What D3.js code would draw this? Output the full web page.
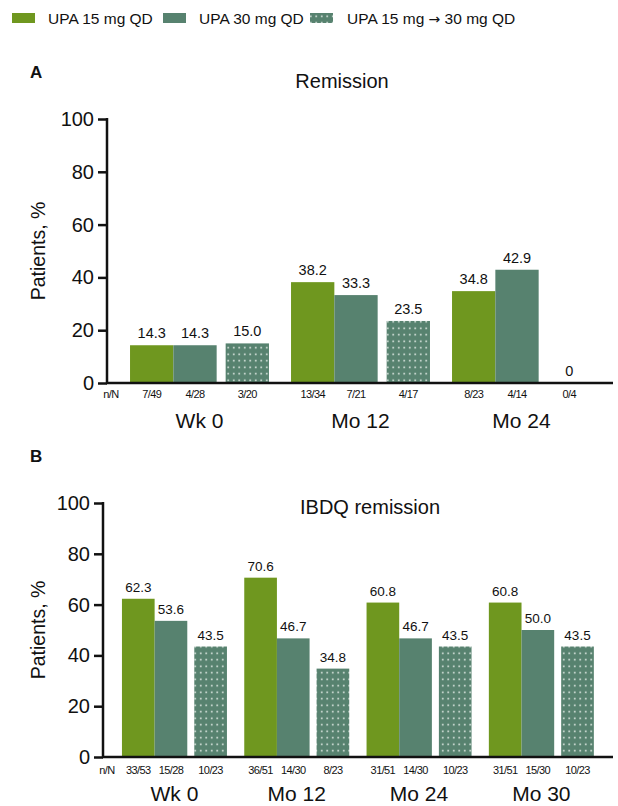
<!DOCTYPE html>
<html>
<head>
<meta charset="utf-8">
<script src="https://cdn.jsdelivr.net/npm/d3@7/dist/d3.min.js"></script>
<style>
  body { margin: 0; background: #fff; }
  svg text { font-family: "Liberation Sans", Arial, sans-serif; fill: #111; }
</style>
</head>
<body>
<div id="chart"></div>
<script>
var width = 618;
var height = 806;

// series (legend order)
var series = ["UPA 15 mg QD", "UPA 30 mg QD", "UPA 15 mg \u2192 30 mg QD"];
var seriesColors = ["#6f971f", "#57826f", "url(#dots)"];

// panel A - remission
var remissionGroups = ["Wk 0", "Mo 12", "Mo 24"];
var remission15 = [14.3, 38.2, 34.8];
var remission30 = [14.3, 33.3, 42.9];
var remissionEsc = [15.0, 23.5, 0];
var remissionN15 = ["7/49", "13/34", "8/23"];
var remissionN30 = ["4/28", "7/21", "4/14"];
var remissionNEsc = ["3/20", "4/17", "0/4"];
var remissionLabels = [["14.3", "38.2", "34.8"], ["14.3", "33.3", "42.9"], ["15.0", "23.5", "0"]];

// panel B - IBDQ remission
var ibdqGroups = ["Wk 0", "Mo 12", "Mo 24", "Mo 30"];
var ibdq15 = [62.3, 70.6, 60.8, 60.8];
var ibdq30 = [53.6, 46.7, 46.7, 50.0];
var ibdqEsc = [43.5, 34.8, 43.5, 43.5];
var ibdqN15 = ["33/53", "36/51", "31/51", "31/51"];
var ibdqN30 = ["15/28", "14/30", "14/30", "15/30"];
var ibdqNEsc = ["10/23", "8/23", "10/23", "10/23"];
var ibdqLabels = [["62.3", "70.6", "60.8", "60.8"], ["53.6", "46.7", "46.7", "50.0"], ["43.5", "34.8", "43.5", "43.5"]];

var yTicks = [0, 20, 40, 60, 80, 100];

var svg = d3.select("#chart").append("svg")
    .attr("width", width)
    .attr("height", height);

// dotted fill for the escalation bars
var pattern = svg.append("defs").append("pattern")
    .attr("id", "dots")
    .attr("patternUnits", "userSpaceOnUse")
    .attr("width", 5.5)
    .attr("height", 6.5);
pattern.append("rect")
    .attr("width", 5.5)
    .attr("height", 6.5)
    .attr("fill", "#57826f");
pattern.append("circle")
    .attr("cx", 2.75)
    .attr("cy", 3.25)
    .attr("r", 0.85)
    .attr("fill", "#eef4f0");

/*====================================================================
       legend
    ==================================================================*/
var legendItems = [
    { x: 12, tx: 48 },
    { x: 163, tx: 199 },
    { x: 310, tx: 347 }
];
var legend = svg.append("g").attr("class", "legend");
legendItems.forEach(function (d, i) {
    legend.append("rect")
        .attr("x", d.x)
        .attr("y", 13)
        .attr("width", 23)
        .attr("height", 10)
        .attr("fill", seriesColors[i]);
    var t = legend.append("text")
        .attr("x", d.tx)
        .attr("y", 24)
        .attr("font-size", "15.5px");
    // the arrow glyph is tiny in Liberation Sans, so draw it with DejaVu
    series[i].split(/(\u2192)/).forEach(function (part) {
        var span = t.append("tspan").text(part);
        if (part === "\u2192") span.attr("font-family", "DejaVu Sans").attr("font-size", "14px");
    });
});

/*====================================================================
       drawPanel()
       one grouped bar panel with its axis, labels and n/N row
    ==================================================================*/
function drawPanel(cfg) {
    var g = svg.append("g");
    var values = [cfg.v15, cfg.v30, cfg.vEsc];
    var counts = [cfg.n15, cfg.n30, cfg.nEsc];

    var y = d3.scaleLinear().domain([0, 100]).range([cfg.y0, cfg.y100]);

    var x = d3.scaleBand()
        .domain(cfg.groups)
        .range(cfg.xRange)
        .paddingInner(cfg.pad)
        .paddingOuter(cfg.pad / 2);

    var band = x.bandwidth();
    var inner = d3.scaleBand()
        .domain(series)
        .range([0, band - cfg.gap]);
    var barX = function (groupIndex, s) {
        return x(cfg.groups[groupIndex]) + inner(series[s]) + (s === 2 ? cfg.gap : 0);
    };

    // panel letter
    g.append("text")
        .attr("x", 30)
        .attr("y", cfg.letterY)
        .attr("font-size", "17px")
        .attr("font-weight", "bold")
        .text(cfg.letter);

    // title
    g.append("text")
        .attr("x", cfg.titleX)
        .attr("y", cfg.titleY)
        .attr("text-anchor", "middle")
        .attr("font-size", "20px")
        .text(cfg.title);

    // bars
    values.forEach(function (vals, s) {
        g.selectAll(".bar-" + s)
            .data(vals)
            .enter()
            .append("rect")
            .attr("x", function (d, i) { return barX(i, s); })
            .attr("y", function (d) { return y(d); })
            .attr("width", inner.bandwidth())
            .attr("height", function (d) { return y(0) - y(d); })
            .attr("fill", seriesColors[s]);

        g.selectAll(".val-" + s)
            .data(vals)
            .enter()
            .append("text")
            .attr("x", function (d, i) { return barX(i, s) + inner.bandwidth() / 2; })
            .attr("y", function (d) { return y(d) - 7; })
            .attr("text-anchor", "middle")
            .attr("font-size", cfg.valueFont)
            .text(function (d, i) { return cfg.labels[s][i]; });

        g.selectAll(".nn-" + s)
            .data(counts[s])
            .enter()
            .append("text")
            .attr("x", function (d, i) { return barX(i, s) + inner.bandwidth() / 2; })
            .attr("y", cfg.y0 + cfg.nOffset)
            .attr("text-anchor", "middle")
            .attr("font-size", "11px")
            .attr("letter-spacing", "-0.6px")
            .text(function (d) { return d; });
    });

    g.append("text")
        .attr("x", cfg.axisX + 4)
        .attr("y", cfg.y0 + cfg.nOffset)
        .attr("text-anchor", "middle")
        .attr("font-size", "11px")
        .attr("letter-spacing", "-0.6px")
        .text("n/N");

    // group labels
    g.selectAll(".group-label")
        .data(cfg.groups)
        .enter()
        .append("text")
        .attr("x", function (d) { return x(d) + band / 2; })
        .attr("y", cfg.groupY)
        .attr("text-anchor", "middle")
        .attr("font-size", "21px")
        .text(function (d) { return d; });

    // y axis
    var yAxis = g.append("g")
        .attr("transform", "translate(" + cfg.axisX + ",0)")
        .call(d3.axisLeft(y).tickValues(yTicks).tickSize(9).tickPadding(4));
    yAxis.select(".domain").remove();
    yAxis.selectAll(".tick line").attr("stroke", "#111").attr("stroke-width", 2.5);
    yAxis.selectAll(".tick text")
        .attr("font-size", "20px")
        .attr("font-family", "Liberation Sans, Arial, sans-serif")
        .attr("fill", "#111");

    g.append("line")
        .attr("x1", cfg.axisX)
        .attr("x2", cfg.axisX)
        .attr("y1", y(100) - 1)
        .attr("y2", y(0))
        .attr("stroke", "#111")
        .attr("stroke-width", 2.5);

    // x axis baseline
    g.append("line")
        .attr("x1", cfg.axisX - 1)
        .attr("x2", 613)
        .attr("y1", y(0))
        .attr("y2", y(0))
        .attr("stroke", "#111")
        .attr("stroke-width", 2.5);

    // y axis title
    g.append("text")
        .attr("transform", "translate(45," + ((y(0) + y(100)) / 2) + ") rotate(-90)")
        .attr("text-anchor", "middle")
        .attr("font-size", "19.5px")
        .text("Patients, %");
}

drawPanel({
    letter: "A", letterY: 78,
    title: "Remission", titleX: 342, titleY: 88,
    groups: remissionGroups,
    v15: remission15, v30: remission30, vEsc: remissionEsc,
    n15: remissionN15, n30: remissionN30, nEsc: remissionNEsc,
    labels: remissionLabels,
    y0: 383, y100: 119,
    axisX: 107,
    xRange: [119, 602], pad: 0.137, gap: 9,
    valueFont: "14.5px",
    nOffset: 15, groupY: 428
});

drawPanel({
    letter: "B", letterY: 462,
    title: "IBDQ remission", titleX: 370, titleY: 514,
    groups: ibdqGroups,
    v15: ibdq15, v30: ibdq30, vEsc: ibdqEsc,
    n15: ibdqN15, n30: ibdqN30, nEsc: ibdqNEsc,
    labels: ibdqLabels,
    y0: 757, y100: 503,
    axisX: 103,
    xRange: [113.3, 602.5], pad: 0.1415, gap: 7,
    valueFont: "13.5px",
    nOffset: 17, groupY: 801
});
</script>
</body>
</html>
